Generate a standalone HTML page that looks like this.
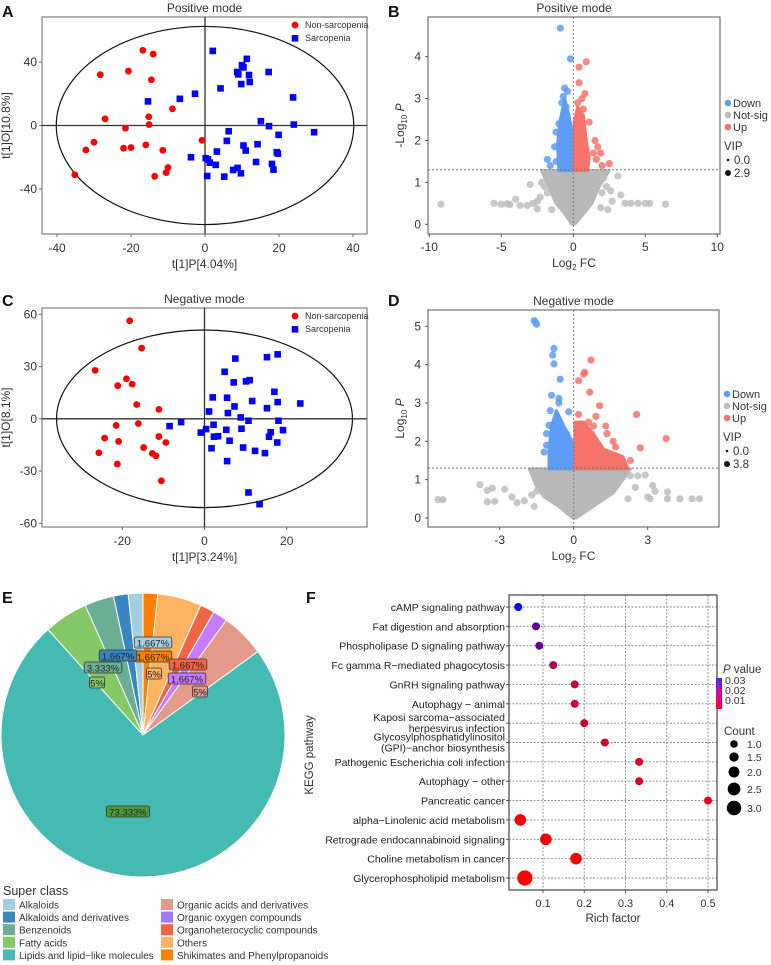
<!DOCTYPE html>
<html><head><meta charset="utf-8"><style>
html,body{margin:0;padding:0;background:#fff;}
svg{display:block;font-family:"Liberation Sans",sans-serif;}
</style></head><body>
<svg id="fig" width="771" height="965" viewBox="0 0 771 965" xmlns="http://www.w3.org/2000/svg"></svg>
<script>
// ---------- DATA ----------
const pcaA_redX=[-16.8,-14,-28.3,-20.7,-14.5,-8.8,-27,-15.2,-15.1,-21.5,-30,-32.2,-22,-20,-16,-11.4,-0.8,-35.2,-13.6,-10.5,-10];
const pcaA_redY=[47.4,45,32,34.3,28.8,10.5,4.2,5.5,0.6,-1.7,-10.5,-15.4,-14.3,-13.9,-12.2,-15.6,-9.3,-31,-32,-29.7,-26.5];
const pcaA_blueX=[2.1,11.3,10,10.4,8.7,9,11.9,17.2,12.1,9.8,4.2,-2.7,-6.8,-15.4,23.8,15.1,17.3,24,29.5,19.9,6.4,5.9,10.4,11,14.2,3.2,-3.8,0.2,1.3,2.9,0.8,13.8,19.4,19.7,18.1,18.5,7.6,8.8,9.7,0.6,5.2];
const pcaA_blueY=[47,42,38,36.6,33.7,32.2,31.8,33.7,27.4,26.1,23.4,20,16.8,15.2,17.7,2.7,-0.4,0.6,-4.2,-5.9,-3.6,-9.7,-12.6,-15.8,-11.8,-16.4,-20,-20.6,-23.4,-24.8,-21.3,-23,-16.8,-17.7,-24.2,-27.8,-28,-26.7,-30.1,-31.8,-32.2];
const pcaA_xTicks=[-40,-20,0,20,40];
const pcaA_yTicks=[-40,0,40];

const pcaC_redX=[-18.2,-15.3,-26.6,-19,-21.1,-17.6,-16.5,-11.1,-16.1,-21.5,-24.3,-20.9,-11.1,-9.4,-14.8,-12.7,-11.8,-25.7,-21.2,-10.5];
const pcaC_redY=[56.3,40.6,27.8,23,19,19.9,8.2,5.4,-2.7,-3.8,-11.1,-13,-10.2,-13.6,-16.5,-19.9,-21.3,-19.5,-26,-35.6];
const pcaC_blueX=[17.8,15.2,7.5,4.9,7.1,10.1,11,17,2,5.5,11.6,17.8,23.3,7.3,15.2,1.1,5.7,8.8,10.7,18,-8.5,-5.7,-0.9,0.4,2.2,2.3,3.3,5.3,9,6.1,16.1,15.7,19.1,17.7,1.7,9.4,12.3,14.7,5.5,10.7,13.4];
const pcaC_blueY=[37,35.4,34.6,27,20.9,21.5,22.2,15.5,12.3,12.1,10.2,9.6,8.8,7.1,6.1,4.2,3.3,0.8,-1.1,-1.1,-4.2,-1.9,-7.9,-5.9,-3.4,-10.3,-10,-6.3,-5.7,-12.6,-7.7,-10.3,-6.5,-13.6,-16.9,-16.5,-18.4,-19.7,-24.3,-42.3,-49];
const pcaC_xTicks=[-20,0,20];
const pcaC_yTicks=[-60,-30,0,30,60];

const volB_downX=[-0.9,-0.2,-0.6,-0.4,-0.7,-1.0,-1.2,-1.3,-1.8,-1.6,-1.2,-0.8,-0.5];
const volB_downY=[4.68,3.95,3.25,3.17,3.05,2.4,2.2,1.85,1.55,1.4,1.5,2.9,2.8];
const volB_upX=[0.9,0.4,0.4,0.8,0.6,1.1,1.5,1.7,1.4,1.6,2.0,2.5,1.9,0.7,0.3];
const volB_upY=[3.88,3.75,3.38,3.12,3.0,2.44,2.0,1.85,1.7,1.55,1.4,1.45,1.7,2.75,2.9];
const volB_nsX=[-9.2,-5.5,-5.0,-4.6,-4.4,-4.0,-3.7,-3.2,-3.0,-2.8,-2.5,-2.3,-2.0,-1.8,2.0,2.3,2.6,2.7,3.1,3.3,3.6,4.0,4.5,5.0,5.3,6.4,-2.2,2.1,1.9,-1.5,2.4,-2.5];
const volB_nsY=[0.48,0.5,0.48,0.49,0.47,0.6,0.45,0.45,0.95,0.5,0.37,0.65,0.9,0.75,0.75,0.9,0.8,0.55,1.15,0.7,0.5,0.5,0.5,0.5,0.5,0.48,1.0,1.1,0.4,0.35,0.35,0.55];
const volB_nsEnvX=[-0.1,-0.7,-1.2,-1.6,-2.2,2.5,1.8,1.3,0.6,0.1];
const volB_nsEnvY=[0,0.3,0.5,0.8,1.28,1.28,0.9,0.5,0.2,0];
const volB_downEnvX=[-1.0,-1.1,-0.9,-0.6,-0.3,-0.1,-0.05];
const volB_downEnvY=[1.28,1.9,2.5,3.0,2.6,2.2,1.28];
const volB_upEnvX=[0.05,0.05,0.3,0.7,0.9,1.1,1.0];
const volB_upEnvY=[1.28,2.4,2.8,2.6,2.0,1.6,1.28];
const volB_xTicks=[-10,-5,0,5,10];
const volB_yTicks=[0,1,2,3,4];

const volD_downX=[-1.6,-1.55,-1.5,-0.8,-0.85,-0.8,-0.55,-0.9,-0.6,-0.6,-0.95,-0.2,-1.0,-1.1,-1.2,-1.1,-0.3];
const volD_downY=[5.15,5.1,5.05,4.42,4.25,4.02,3.62,3.2,3.12,3.0,2.8,2.77,2.42,2.2,1.72,1.9,2.2];
const volD_upX=[0.7,0.45,0.4,0.2,0.65,1.05,0.2,0.9,2.55,1.3,1.35,3.75,1.6,1.7,2.7,2.3,1.9,1.2,0.8,0.6];
const volD_upY=[4.12,3.8,3.75,3.58,3.28,2.93,2.7,2.65,2.7,2.4,2.2,2.07,2.0,1.85,1.83,1.5,1.45,1.6,2.4,2.5];
const volD_nsX=[-5.5,-5.3,-3.8,-3.5,-3.3,-3.5,-3.2,-2.8,-2.5,-2.3,-2.0,-1.7,-1.6,-1.5,2.3,2.6,2.9,3.2,3.3,3.0,3.8,3.8,4.3,4.8,5.1,2.5,2.2,3.1];
const volD_nsY=[0.48,0.48,0.87,0.72,0.78,0.42,0.43,0.75,0.55,0.4,0.45,0.6,0.3,0.7,1.1,1.1,1.12,0.85,0.7,0.55,0.68,0.5,0.5,0.5,0.5,0.8,0.5,0.5];
const volD_nsEnvX=[-0.05,-0.6,-1.2,-1.5,-1.8,2.3,2.0,1.6,0.9,0.1];
const volD_nsEnvY=[0,0.3,0.55,0.8,1.28,1.28,1.0,0.65,0.35,0];
const volD_downEnvX=[-1.0,-1.0,-0.9,-0.7,-0.4,-0.05,-0.05];
const volD_downEnvY=[1.28,1.8,2.4,2.8,2.4,2.0,1.28];
const volD_upEnvX=[0.05,0.05,0.4,0.8,1.2,2.0,2.2];
const volD_upEnvY=[1.28,2.5,2.5,2.2,1.8,1.6,1.28];
const volD_xTicks=[-3,0,3];
const volD_yTicks=[0,1,2,3,4,5];

const pieClasses=["Shikimates and Phenylpropanoids","Others","Organoheterocyclic compounds","Organic oxygen compounds","Organic acids and derivatives","Lipids and lipid\u2212like molecules","Fatty acids","Benzenoids","Alkaloids and derivatives","Alkaloids"];
const piePercents=[1.667,5,1.667,1.667,5,73.333,5,3.333,1.667,1.667];
const pieLabels=["1.667%","5%","1.667%","1.667%","5%","73.333%","5%","3.333%","1.667%","1.667%"];

const keggPathways=["cAMP signaling pathway","Fat digestion and absorption","Phospholipase D signaling pathway","Fc gamma R\u2212mediated phagocytosis","GnRH signaling pathway","Autophagy \u2212 animal","Kaposi sarcoma\u2212associated|herpesvirus infection","Glycosylphosphatidylinositol|(GPI)\u2212anchor biosynthesis","Pathogenic Escherichia coli infection","Autophagy \u2212 other","Pancreatic cancer","alpha\u2212Linolenic acid metabolism","Retrograde endocannabinoid signaling","Choline metabolism in cancer","Glycerophospholipid metabolism"];
const keggRich=[0.04,0.083,0.091,0.125,0.177,0.177,0.2,0.25,0.333,0.333,0.5,0.045,0.107,0.18,0.056];
const keggCount=[1,1,1,1,1,1,1,1,1,1,1,2,2,2,3];
const keggP=[0.03,0.02,0.02,0.013,0.01,0.01,0.01,0.009,0.008,0.008,0.007,0.006,0.006,0.005,0.004];
const keggXTicks=[0.1,0.2,0.3,0.4,0.5];

// ---------- HELPERS ----------
const NS='http://www.w3.org/2000/svg';
const svg=document.getElementById('fig');
function mk(tag,attrs,parent){const e=document.createElementNS(NS,tag);for(const k in attrs)e.setAttribute(k,attrs[k]);(parent||svg).appendChild(e);return e;}
function txt(s,x,y,size,anchor,parent,extra){const e=mk('text',Object.assign({x:x,y:y,'font-size':size,'text-anchor':anchor||'start',fill:'#333'},extra||{}),parent);e.textContent=s;return e;}
function lin(d0,d1,p0,p1){return v=>p0+(v-d0)*(p1-p0)/(d1-d0);}

[["A",2,17],["B",388,17],["C",2,306],["D",388,306],["E",2,603],["F",306,603]].forEach(l=>{
  const t=txt(l[0],l[1],l[2],16,'start',svg,{'font-weight':'bold',fill:'#111'});
  
  
});

// ---------- PCA ----------
function pca(id,c){
  const g=mk('g',{});
  
  
  const sx=lin(c.xd[0],c.xd[1],c.xp[0],c.xp[1]), sy=lin(c.yd[0],c.yd[1],c.yp[0],c.yp[1]);
  const t=txt(c.title,(c.box[0]+c.box[2])/2,c.box[1]-5,12,'middle',g);
  
  
  const b=mk('rect',{x:c.box[0],y:c.box[1],width:c.box[2]-c.box[0],height:c.box[3]-c.box[1],fill:'none',stroke:'#666','stroke-width':1},g);
  
  
  mk('line',{x1:c.box[0],x2:c.box[2],y1:sy(0),y2:sy(0),stroke:'#333','stroke-width':1.3},g);
  mk('line',{x1:sx(0),x2:sx(0),y1:c.box[1],y2:c.box[3],stroke:'#333','stroke-width':1.3},g);
  const el=mk('ellipse',{cx:sx(0),cy:sy(0),rx:Math.abs(sx(c.erx)-sx(0)),ry:Math.abs(sy(c.ery)-sy(0)),fill:'none',stroke:'#111','stroke-width':1.2},g);
  
  
  c.xt.forEach(v=>{mk('line',{x1:sx(v),x2:sx(v),y1:c.box[3],y2:c.box[3]+3,stroke:'#666'},g);const e=txt(String(v),sx(v),c.box[3]+18,12,'middle',g);});
  c.yt.forEach(v=>{mk('line',{x1:c.box[0]-3,x2:c.box[0],y1:sy(v),y2:sy(v),stroke:'#666'},g);const e=txt(String(v),c.box[0]-5,sy(v)+4,12,'end',g);});
  const xl=txt(c.xl,(c.box[0]+c.box[2])/2,c.box[3]+34,12,'middle',g);
  
  
  const cy=(c.box[1]+c.box[3])/2;
  const yl=txt(c.yl,10,cy,12,'middle',g,{transform:'rotate(-90 10 '+cy+')'});
  
  
  c.rx.forEach((v,i)=>{const p=mk('circle',{cx:sx(v),cy:sy(c.ry[i]),r:3.4,fill:'#ff0000'},g);});
  c.bx.forEach((v,i)=>{const p=mk('rect',{x:sx(v)-3.3,y:sy(c.by[i])-3.3,width:6.6,height:6.6,fill:'#0000ff'},g);});
  const lx=c.box[2]-72, ly=c.box[1]+8;
  const l1=mk('circle',{cx:lx,cy:ly,r:3.4,fill:'#ff0000'},g);
  
  
  const l1t=txt('Non-sarcopenia',lx+10,ly+3,9,'start',g);
  
  
  const l2=mk('rect',{x:lx-3.3,y:ly+10,width:6.6,height:6.6,fill:'#0000ff'},g);
  
  
  const l2t=txt('Sarcopenia',lx+10,ly+16,9,'start',g);
  
  
}
pca('panel-a',{title:'Positive mode',box:[42,17,367,234],xd:[-40,40],xp:[57,353],yd:[40,-40],yp:[62,189],erx:40.2,ery:62.4,xt:pcaA_xTicks,yt:pcaA_yTicks,xl:'t[1]P[4.04%]',yl:'t[1]O[10.8%]',rx:pcaA_redX,ry:pcaA_redY,bx:pcaA_blueX,by:pcaA_blueY});
pca('panel-c',{title:'Negative mode',box:[42,308,367,527],xd:[-20,20],xp:[122.3,286.7],yd:[60,-60],yp:[314.3,523.3],erx:36,ery:51,xt:pcaC_xTicks,yt:pcaC_yTicks,xl:'t[1]P[3.24%]',yl:'t[1]O[8.1%]',rx:pcaC_redX,ry:pcaC_redY,bx:pcaC_blueX,by:pcaC_blueY});

// ---------- VOLCANO ----------
function volcano(id,c){
  const g=mk('g',{});
  
  
  const sx=lin(c.xd[0],c.xd[1],c.xp[0],c.xp[1]), sy=lin(c.yd[0],c.yd[1],c.yp[0],c.yp[1]);
  const t=txt(c.title,(c.box[0]+c.box[2])/2,c.box[1]-5,12,'middle',g);
  
  
  const poly=(xs,ys,col,name)=>{const p=mk('polygon',{points:xs.map((v,i)=>sx(v)+','+sy(ys[i])).join(' '),fill:col,stroke:col,'stroke-width':3,'stroke-linejoin':'round'},g);};
  const dots=(xs,ys,col,name)=>xs.forEach((v,i)=>{const p=mk('circle',{cx:sx(v),cy:sy(ys[i]),r:3.6,fill:col,'fill-opacity':0.85},g);});
  poly(c.nsEx,c.nsEy,'#b8b8b8','not-sig-cloud');
  dots(c.nsx,c.nsy,'#bdbdbd','not-sig-point');
  poly(c.dEx,c.dEy,'#5f9cf5','down-cloud');
  poly(c.uEx,c.uEy,'#f5736b','up-cloud');
  dots(c.dx,c.dy,'#5f9cf5','down-point');
  dots(c.ux,c.uy,'#f5736b','up-point');
  mk('line',{x1:c.box[0],x2:c.box[2],y1:sy(1.301),y2:sy(1.301),stroke:'#777','stroke-dasharray':'2,2'},g);
  mk('line',{x1:sx(0),x2:sx(0),y1:c.box[1],y2:c.box[3],stroke:'#777','stroke-dasharray':'2,2'},g);
  const b=mk('rect',{x:c.box[0],y:c.box[1],width:c.box[2]-c.box[0],height:c.box[3]-c.box[1],fill:'none',stroke:'#555','stroke-width':1},g);
  
  
  c.xt.forEach(v=>{mk('line',{x1:sx(v),x2:sx(v),y1:c.box[3],y2:c.box[3]+3,stroke:'#555'},g);const e=txt(String(v),sx(v),c.box[3]+17,12,'middle',g);});
  c.yt.forEach(v=>{mk('line',{x1:c.box[0]-3,x2:c.box[0],y1:sy(v),y2:sy(v),stroke:'#555'},g);const e=txt(String(v),c.box[0]-7,sy(v)+4,12,'end',g);});
  const xl=mk('text',{x:(c.box[0]+c.box[2])/2,y:c.box[3]+33,'font-size':12,'text-anchor':'middle',fill:'#333'},g);
  xl.innerHTML='Log<tspan font-size="8" dy="3">2</tspan><tspan dy="-3"> FC</tspan>';
  
  
  const cy=(c.box[1]+c.box[3])/2;
  const yl=mk('text',{x:c.box[0]-24,y:cy,'font-size':12,'text-anchor':'middle',fill:'#333',transform:'rotate(-90 '+(c.box[0]-24)+' '+cy+')'},g);
  yl.innerHTML=c.ylPre+'Log<tspan font-size="8" dy="3">10</tspan><tspan dy="-3" font-style="italic"> P</tspan>';
  
  
  const lx=c.box[2]+8, ly=c.ly;
  [['Down','#5f9cf5'],['Not-sig','#bdbdbd'],['Up','#f5736b']].forEach((e,i)=>{
    const m=mk('circle',{cx:lx,cy:ly+i*12,r:3.3,fill:e[1]},g);
    
    
    const tt=txt(e[0],lx+5,ly+i*12+4,11,'start',g);
    
    
  });
  const vt=txt('VIP',lx-4,ly+47,11.5,'start',g);
  
  
  mk('circle',{cx:lx,cy:ly+57,r:1.3,fill:'#111'},g);
  const v1=txt('0.0',lx+6,ly+61,11.5,'start',g);
  
  
  mk('circle',{cx:lx,cy:ly+70,r:3,fill:'#111'},g);
  const v2=txt(c.vipMax,lx+6,ly+74,11.5,'start',g);
  
  
}
volcano('panel-b',{title:'Positive mode',box:[428,17,720,234],xd:[-10,10],xp:[429.3,717.3],yd:[0,4],yp:[224.3,56.7],xt:volB_xTicks,yt:volB_yTicks,ylPre:'-',ly:103,vipMax:'2.9',
  dx:volB_downX,dy:volB_downY,ux:volB_upX,uy:volB_upY,nsx:volB_nsX,nsy:volB_nsY,nsEx:volB_nsEnvX,nsEy:volB_nsEnvY,dEx:volB_downEnvX,dEy:volB_downEnvY,uEx:volB_upEnvX,uEy:volB_upEnvY});
volcano('panel-d',{title:'Negative mode',box:[428,310,719,527],xd:[-3,3],xp:[499.7,647.7],yd:[0,5],yp:[518,326.3],xt:volD_xTicks,yt:volD_yTicks,ylPre:'',ly:394,vipMax:'3.8',
  dx:volD_downX,dy:volD_downY,ux:volD_upX,uy:volD_upY,nsx:volD_nsX,nsy:volD_nsY,nsEx:volD_nsEnvX,nsEy:volD_nsEnvY,dEx:volD_downEnvX,dEy:volD_downEnvY,uEx:volD_upEnvX,uEy:volD_upEnvY});

// ---------- PIE ----------
(function(){
  const g=mk('g',{});
  
  
  const cols=['#ff7f00','#fdb462','#ef6545','#c77cff','#e5998a','#45bab2','#85c866','#6aae96','#3a86c0','#a6cee3'];
  const labelPos=[[153,657],[154,674],[188,665],[187,679],[200,692],[128,812],[97,683],[103,668],[118,656],[153,643]];
  const cx=143,cy=735,r=142;
  const total=piePercents.reduce((a,b)=>a+b,0);
  let a0=-Math.PI/2;
  piePercents.forEach((p,i)=>{
    const a1=a0+p/total*2*Math.PI;
    const large=(a1-a0)>Math.PI?1:0;
    const d='M'+cx+','+cy+' L'+(cx+r*Math.cos(a0))+','+(cy+r*Math.sin(a0))+' A'+r+','+r+' 0 '+large+' 1 '+(cx+r*Math.cos(a1))+','+(cy+r*Math.sin(a1))+' Z';
    const s=mk('path',{d:d,fill:cols[i],stroke:'#fff','stroke-width':1},g);
    
    
    a0=a1;
  });
  pieLabels.forEach((l,i)=>{
    const w=l.length*5.6+4;
    const x=labelPos[i][0],y=labelPos[i][1];
    const bg=i===5?'#4c9a3a':cols[i];
    mk('rect',{x:x-w/2,y:y-6,width:w,height:11,rx:2,fill:bg,stroke:'#333','stroke-width':0.8},g);
    const t=txt(l,x,y+3.5,9.5,'middle',g,{fill:'#222'});
    
    
  });
  const lt=txt('Super class',3,895,12.5,'start',g);
  
  
  const leftOrder=[9,8,7,6,5], rightOrder=[4,3,2,1,0];
  const lcol=['#a6cee3','#3a86c0','#6aae96','#85c866','#45bab2','#e5998a','#9b7cf5','#ef6545','#fdb462','#ff7f00'];
  const drawRow=(idx,k,x,colIdx)=>{
    const y=899+k*12.6;
    mk('rect',{x:x,y:y,width:12,height:11,fill:lcol[colIdx]},g);
    const t=txt(pieClasses[idx],x+16,y+9.5,10,'start',g);
    
    
  };
  leftOrder.forEach((idx,k)=>drawRow(idx,k,3,k));
  rightOrder.forEach((idx,k)=>drawRow(idx,k,161,k+5));
})();

// ---------- KEGG ----------
(function(){
  const g=mk('g',{});
  
  
  const box=[509,595,717,890];
  const sx=lin(0.1,0.5,543,708);
  const rowY=i=>607+i*(878-607)/(keggPathways.length-1);
  const pcol=p=>{const t=Math.max(0,Math.min(1,(p-0.005)/0.025));return 'rgb('+Math.round(255*(1-t))+',0,'+Math.round(255*t)+')';};
  const rad=c=>4+(c-1)*1.8;
  keggXTicks.forEach(v=>mk('line',{x1:sx(v),x2:sx(v),y1:box[1],y2:box[3],stroke:'#888','stroke-dasharray':'2,1.5','stroke-width':0.9},g));
  keggPathways.forEach((n,i)=>{
    mk('line',{x1:box[0],x2:box[2],y1:rowY(i),y2:rowY(i),stroke:'#888','stroke-dasharray':'2,1.5','stroke-width':0.9},g);
    mk('line',{x1:box[0]-3,x2:box[0],y1:rowY(i),y2:rowY(i),stroke:'#555'},g);
    const parts=n.split('|');
    parts.forEach((p,k)=>{
      const yy=rowY(i)+4+(parts.length===2?(k===0?-6:5):0);
      const t=txt(p,box[0]-4,yy,10.5,'end',g,{fill:'#222'});
      
      
    });
  });
  const b=mk('rect',{x:box[0],y:box[1],width:box[2]-box[0],height:box[3]-box[1],fill:'none',stroke:'#444','stroke-width':1.2},g);
  
  
  keggRich.forEach((v,i)=>{
    const c=mk('circle',{cx:sx(v),cy:rowY(i),r:rad(keggCount[i]),fill:pcol(keggP[i])},g);
    
    
  });
  keggXTicks.forEach(v=>{mk('line',{x1:sx(v),x2:sx(v),y1:box[3],y2:box[3]+3,stroke:'#555'},g);const t=txt(String(v),sx(v),box[3]+17,11,'middle',g);});
  const xl=txt('Rich factor',613,922,11.5,'middle',g);
  
  
  const yl=txt('KEGG pathway',313,755,11.5,'middle',g,{transform:'rotate(-90 313 755)'});
  
  
  const pv=mk('text',{x:723,y:673,'font-size':11.5,fill:'#333'},g);
  pv.innerHTML='<tspan font-style="italic">P</tspan> value';
  
  
  const defs=mk('defs',{},g);
  const lg=mk('linearGradient',{id:'pg',x1:0,y1:0,x2:0,y2:1},defs);
  mk('stop',{offset:0,'stop-color':'#3030ff'},lg);
  mk('stop',{offset:0.4,'stop-color':'#c010b0'},lg);
  mk('stop',{offset:1,'stop-color':'#ff0020'},lg);
  const cb=mk('rect',{x:716,y:678,width:6,height:31,fill:'url(#pg)'},g);
  
  
  [['0.03',684],['0.02',694],['0.01',704]].forEach(e=>{const t=txt(e[0],725,e[1],10.5,'start',g);});
  const ct=txt('Count',724,735,11.5,'start',g);
  
  
  [[1.0,744],[1.5,757],[2.0,772],[2.5,789],[3.0,808]].forEach(e=>{
    mk('circle',{cx:734,cy:e[1],r:3.8+(e[0]-1)*1.7,fill:'#000'},g);
    const t=txt(e[0].toFixed(1),747,e[1]+4,10.5,'start',g);
    
    
  });
})();
</script>
</body></html>
